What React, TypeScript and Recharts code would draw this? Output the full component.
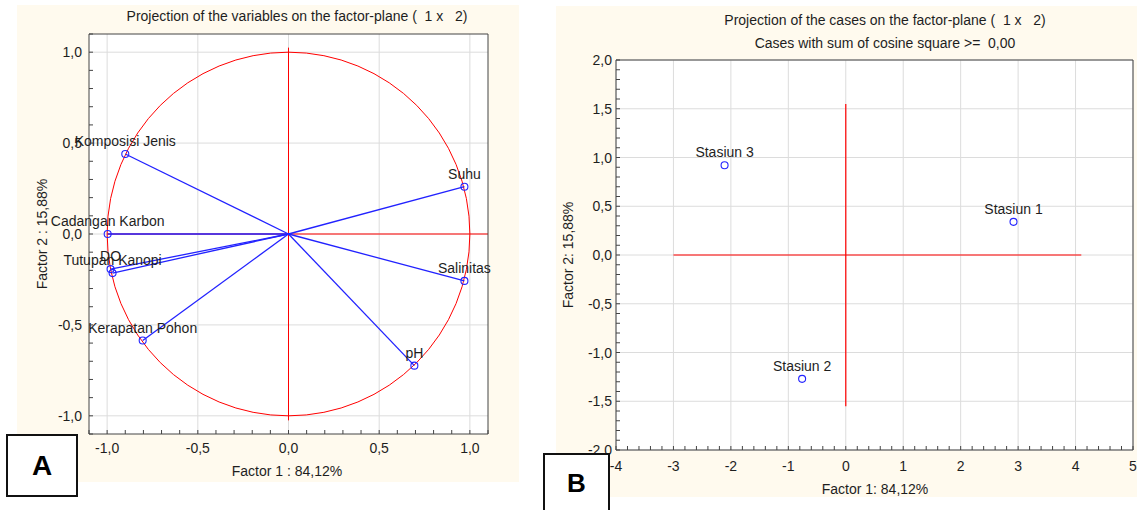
import React from 'react';
import { ScatterChart, Scatter, XAxis, YAxis, ReferenceLine, CartesianGrid } from 'recharts';

// Panel A: projection of the variables (loadings)
const variableNames = ['Komposisi Jenis', 'Suhu', 'Cadangan Karbon', 'DO', 'Tutupan Kanopi', 'Salinitas', 'Kerapatan Pohon', 'pH'];
const factor1Loadings = [-0.9, 0.97, -0.997, -0.981, -0.97, 0.97, -0.804, 0.694];
const factor2Loadings = [0.44, 0.26, 0.0, -0.193, -0.215, -0.258, -0.586, -0.724];
const loadingTicks = [-1, -0.5, 0, 0.5, 1];

// Panel B: projection of the cases (scores)
const caseNames = ['Stasiun 1', 'Stasiun 2', 'Stasiun 3'];
const factor1Scores = [2.92, -0.76, -2.11];
const factor2Scores = [0.34, -1.27, 0.92];
const scoreXTicks = [-4, -3, -2, -1, 0, 1, 2, 3, 4, 5];
const scoreYTicks = [-2, -1.5, -1, -0.5, 0, 0.5, 1, 1.5, 2];

const CREAM = '#fffaee';
const TEXT = '#1e1e1e';
const FRAME = '#444';
const GRID = '#dcdcdc';
const BLUE = '#2222ff';
const RED = '#ff0000';
const FONT = '"Liberation Sans", Arial, sans-serif';

// minor tick marks (no labels)
const minorTicks = (from: number, to: number, step: number) => {
  const n = Math.round((to - from) / step);
  const out: number[] = [];
  for (let i = 0; i <= n; i++) out.push(Math.round((from + i * step) * 1000) / 1000);
  return out;
};
const loadingMinor = minorTicks(-1.1, 1.1, 0.1);
const scoreXMinor = minorTicks(-4, 5, 0.2);
const scoreYMinor = minorTicks(-2, 2, 0.1);

const loadingData = variableNames.map((name, i) => ({ name, x: factor1Loadings[i], y: factor2Loadings[i] }));
const scoreData = caseNames.map((name, i) => ({ name, x: factor1Scores[i], y: factor2Scores[i] }));

const fmtComma = (v: number) => v.toFixed(1).replace('.', ',');
const fmtInt = (v: number) => String(v);
const isMajor = (majors: number[], v: number) => majors.some((m) => Math.abs(m - v) < 1e-6);

const bottomTick = (majors: number[], fmt: (v: number) => string, dy: number) => (props: any) => {
  const { x, y, payload } = props;
  const v = payload.value;
  return (
    <g>
      <line x1={x} y1={y} x2={x} y2={y - 4} stroke={FRAME} />
      {isMajor(majors, v) && (
        <text x={x} y={y + dy} textAnchor="middle" fontSize={14} fill={TEXT} fontFamily={FONT}>
          {fmt(v)}
        </text>
      )}
    </g>
  );
};

const leftTick = (majors: number[], fmt: (v: number) => string, dx: number) => (props: any) => {
  const { x, y, payload } = props;
  const v = payload.value;
  return (
    <g>
      <line x1={x} y1={y} x2={x + 4} y2={y} stroke={FRAME} />
      {isMajor(majors, v) && (
        <text x={x - dx} y={y + 5} textAnchor="end" fontSize={14} fill={TEXT} fontFamily={FONT}>
          {fmt(v)}
        </text>
      )}
    </g>
  );
};

const LabeledMarker = (props: any) => {
  const { cx, cy, payload } = props;
  return (
    <g>
      <circle cx={cx} cy={cy} r={3.5} fill="none" stroke={BLUE} strokeWidth={1.1} />
      <text x={cx} y={cy - 8} textAnchor="middle" fontSize={14} fill={TEXT} fontFamily={FONT}>
        {payload.name}
      </text>
    </g>
  );
};

const UnitCircle = (p: any) => (
  <ellipse
    cx={p.x1}
    cy={p.y1}
    rx={Math.abs(p.x2 - p.x1)}
    ry={Math.abs(p.y2 - p.y1)}
    fill="none"
    stroke={RED}
    strokeWidth={1}
  />
);

const centered = (cx: number, cy: number, w: number, extra: React.CSSProperties = {}): React.CSSProperties => ({
  position: 'absolute',
  left: cx - w / 2,
  top: cy - 8,
  width: w,
  height: 16,
  lineHeight: '16px',
  textAlign: 'center',
  fontSize: 14,
  color: TEXT,
  whiteSpace: 'pre',
  ...extra,
});

const LoadingChart = () => (
  <ScatterChart width={502} height={477} margin={{ top: 29, right: 31, bottom: 18, left: 22 }}>
    <CartesianGrid fill="#ffffff" horizontal={false} vertical={false} />
    <XAxis
      type="number"
      dataKey="x"
      domain={[-1.1, 1.1]}
      ticks={loadingMinor}
      interval={0}
      height={30}
      tickSize={0}
      tickMargin={0}
      tickLine={false}
      axisLine={{ stroke: FRAME }}
      tick={bottomTick(loadingTicks, fmtComma, 19)}
    />
    <XAxis
      xAxisId="top"
      orientation="top"
      mirror
      type="number"
      domain={[-1.1, 1.1]}
      ticks={loadingMinor}
      interval={0}
      height={1}
      tickSize={4}
      tick={false}
      tickLine={{ stroke: FRAME }}
      axisLine={{ stroke: FRAME }}
    />
    <YAxis
      type="number"
      dataKey="y"
      domain={[-1.1, 1.1]}
      ticks={loadingMinor}
      interval={0}
      width={50}
      tickSize={0}
      tickMargin={0}
      tickLine={false}
      axisLine={{ stroke: FRAME }}
      tick={leftTick(loadingTicks, fmtComma, 7)}
    />
    <YAxis
      yAxisId="right"
      orientation="right"
      mirror
      type="number"
      domain={[-1.1, 1.1]}
      ticks={loadingMinor}
      interval={0}
      width={1}
      tickSize={4}
      tick={false}
      tickLine={{ stroke: FRAME }}
      axisLine={{ stroke: FRAME }}
    />
    {loadingTicks.map((v) => (
      <ReferenceLine key={`gx${v}`} x={v} stroke={GRID} />
    ))}
    {loadingTicks.map((v) => (
      <ReferenceLine key={`gy${v}`} y={v} stroke={GRID} />
    ))}
    <ReferenceLine segment={[{ x: 0, y: 0 }, { x: 1, y: 1 }]} shape={UnitCircle} />
    <ReferenceLine segment={[{ x: -1, y: 0 }, { x: 1.1, y: 0 }]} stroke={RED} />
    <ReferenceLine segment={[{ x: 0, y: -1.025 }, { x: 0, y: 1.025 }]} stroke={RED} />
    {loadingData.map((d) => (
      <ReferenceLine key={d.name} segment={[{ x: 0, y: 0 }, { x: d.x, y: d.y }]} stroke={BLUE} strokeWidth={1.3} />
    ))}
    <Scatter data={loadingData} shape={LabeledMarker} isAnimationActive={false} />
  </ScatterChart>
);

const ScoreChart = () => (
  <ScatterChart width={581} height={491} margin={{ top: 54, right: 4, bottom: 17, left: 15 }}>
    <CartesianGrid fill="#ffffff" horizontal={false} vertical={false} />
    <XAxis
      type="number"
      dataKey="x"
      domain={[-4, 5]}
      ticks={scoreXMinor}
      interval={0}
      height={30}
      tickSize={0}
      tickMargin={0}
      tickLine={false}
      axisLine={{ stroke: FRAME }}
      tick={bottomTick(scoreXTicks, fmtInt, 21)}
    />
    <XAxis
      xAxisId="top"
      orientation="top"
      mirror
      type="number"
      domain={[-4, 5]}
      ticks={scoreXMinor}
      interval={0}
      height={1}
      tickSize={4}
      tick={false}
      tickLine={{ stroke: FRAME }}
      axisLine={{ stroke: FRAME }}
    />
    <YAxis
      type="number"
      dataKey="y"
      domain={[-2, 2]}
      ticks={scoreYMinor}
      interval={0}
      width={45}
      tickSize={0}
      tickMargin={0}
      tickLine={false}
      axisLine={{ stroke: FRAME }}
      tick={leftTick(scoreYTicks, fmtComma, 4)}
    />
    <YAxis
      yAxisId="right"
      orientation="right"
      mirror
      type="number"
      domain={[-2, 2]}
      ticks={scoreYMinor}
      interval={0}
      width={1}
      tickSize={4}
      tick={false}
      tickLine={{ stroke: FRAME }}
      axisLine={{ stroke: FRAME }}
    />
    {scoreXTicks.map((v) => (
      <ReferenceLine key={`gx${v}`} x={v} stroke={GRID} />
    ))}
    {scoreYTicks.map((v) => (
      <ReferenceLine key={`gy${v}`} y={v} stroke={GRID} />
    ))}
    <ReferenceLine segment={[{ x: -3, y: 0 }, { x: 4.1, y: 0 }]} stroke={RED} strokeWidth={1.2} />
    <ReferenceLine segment={[{ x: 0, y: -1.55 }, { x: 0, y: 1.55 }]} stroke={RED} strokeWidth={1.2} />
    <Scatter data={scoreData} shape={LabeledMarker} isAnimationActive={false} />
  </ScatterChart>
);

const letterBox = (left: number, top: number, w: number, h: number, size: number): React.CSSProperties => ({
  position: 'absolute',
  left,
  top,
  width: w,
  height: h,
  boxSizing: 'border-box',
  border: '2px solid #111',
  background: '#fff',
  fontWeight: 'bold',
  fontSize: size,
  color: '#000',
  display: 'flex',
  alignItems: 'center',
  justifyContent: 'center',
});

export default function App() {
  return (
    <div
      style={{
        position: 'absolute',
        left: 0,
        top: 0,
        width: 1137,
        height: 510,
        background: '#fff',
        fontFamily: FONT,
        overflow: 'hidden',
      }}
    >
      <div style={{ position: 'absolute', left: 17, top: 5, width: 502, height: 477, background: CREAM }}>
        <LoadingChart />
      </div>
      <div style={centered(297, 16, 460)}>Projection of the variables on the factor-plane (  1 x   2)</div>
      <div style={centered(287, 471, 200)}>Factor 1 : 84,12%</div>
      <div style={centered(42, 234, 200, { transform: 'rotate(-90deg)' })}>Factor 2 : 15,88%</div>

      <div style={{ position: 'absolute', left: 556, top: 6, width: 581, height: 491, background: CREAM }}>
        <ScoreChart />
      </div>
      <div style={centered(885, 20, 460)}>Projection of the cases on the factor-plane (  1 x   2)</div>
      <div style={centered(885, 43, 460)}>Cases with sum of cosine square &gt;=  0,00</div>
      <div style={centered(875, 489, 200)}>Factor 1: 84,12%</div>
      <div style={centered(568, 255, 200, { transform: 'rotate(-90deg)' })}>Factor 2: 15,88%</div>

      <div style={letterBox(6, 434, 72, 63, 28)}>A</div>
      <div style={letterBox(543, 453, 67, 70, 26)}>
        <span style={{ marginTop: -10 }}>B</span>
      </div>
    </div>
  );
}
